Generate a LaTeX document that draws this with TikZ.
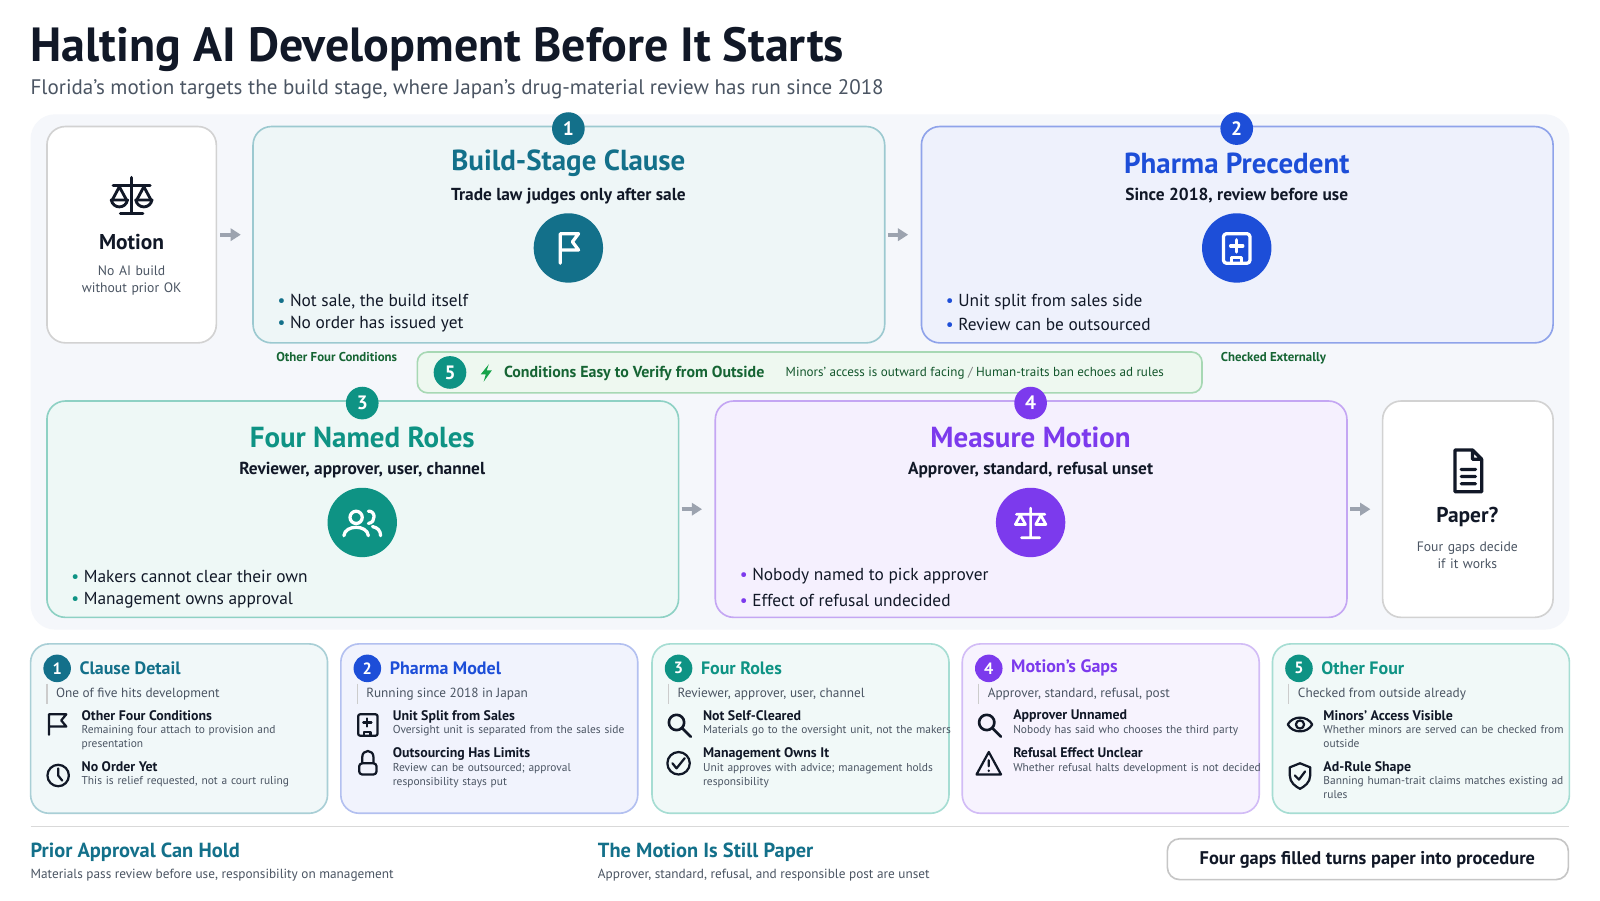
\documentclass[tikz,border=0pt]{standalone}
\usepackage{fontspec}
\setmainfont{PT Sans}
\usetikzlibrary{arrows.meta}
\hyphenpenalty=10000 \exhyphenpenalty=10000
\definecolor{ink}{HTML}{111827}
\definecolor{gry}{HTML}{4B5563}
\definecolor{cA}{HTML}{13708A}
\definecolor{cB}{HTML}{1D4ED8}
\definecolor{cC}{HTML}{0E9384}
\definecolor{cD}{HTML}{7C3AED}
\definecolor{cG}{HTML}{166534}
\definecolor{arr}{HTML}{9CA3AF}
\definecolor{bg}{HTML}{F5F7FB}
\definecolor{lg}{HTML}{16A34A}
\definecolor{b1f}{HTML}{EEF6F7}\definecolor{b1d}{HTML}{9CC9D0}
\definecolor{b2f}{HTML}{EEF1FC}\definecolor{b2d}{HTML}{8FA3EA}
\definecolor{b3f}{HTML}{EEF8F6}\definecolor{b3d}{HTML}{8ED1C4}
\definecolor{b4f}{HTML}{F5F0FE}\definecolor{b4d}{HTML}{C4A6F3}
\definecolor{b5f}{HTML}{EEF8F0}\definecolor{b5d}{HTML}{A7D8B4}
\definecolor{k1f}{HTML}{F1F8F9}\definecolor{k1d}{HTML}{A9CFD6}
\definecolor{k2f}{HTML}{F1F3FD}\definecolor{k2d}{HTML}{B3C0F0}
\definecolor{k3f}{HTML}{F1F9F8}\definecolor{k3d}{HTML}{A6DDD3}
\definecolor{k4f}{HTML}{F7F3FE}\definecolor{k4d}{HTML}{D2BCF6}
\begin{document}
\begin{tikzpicture}[x=0.5pt,y=-0.5pt,
 every node/.style={inner sep=0,outer sep=0},
 card/.style={rounded corners=9pt,line width=0.8pt},
 badge/.style={circle,minimum size=16pt,text=white,font=\bfseries\fontsize{9.5}{10}\selectfont},
 bigc/.style={circle,minimum size=34pt},
 flow/.style={-{Triangle[length=5pt,width=6pt]},draw=arr,line width=2pt},
 ttl/.style={font=\bfseries\fontsize{14.2}{16}\selectfont},
 sub/.style={font=\bfseries\fontsize{8.5}{10}\selectfont,text=ink},
 bul/.style={anchor=west,font=\fontsize{8.5}{10}\selectfont,text=ink},
 it/.style={anchor=north west,font=\bfseries\fontsize{6.8}{8}\selectfont,text=ink},
 ds/.style={anchor=north west,font=\fontsize{5.6}{7}\selectfont,text=gry,text width=118pt,align=left},
 ic/.style={line width=1.1pt,draw=ink,line cap=round,line join=round},
 wi/.style={line width=1.6pt,draw=white,line cap=round,line join=round}]
\useasboundingbox (0,0) rectangle (1600,900);
\fill[white] (0,0) rectangle (1600,900);
\begin{scope}[transform canvas={scale=1.0204}]
% title
\node[anchor=base west,font=\bfseries\fontsize{23.5}{26}\selectfont,text=ink] (title) at (30,60) {Halting AI Development Before It Starts};
\node[anchor=base west,font=\fontsize{10.3}{12}\selectfont,text=gry] (subt) at (30,93) {Florida's motion targets the build stage, where Japan's drug-material review has run since 2018};
\fill[bg,rounded corners=12pt] (30,112) rectangle (1538,617);
% Motion
\draw[card,draw=gray!35,fill=white] (46,124) rectangle (212,336);
\node (motion) at (129,230) {};
\draw[ic,line width=1.6pt] (129,174)--(129,208) (118,209)--(140,209) (111,182)--(147,182);
\draw[ic,line width=1.4pt] (117,183)--(110,196) (117,183)--(124,196) (141,183)--(134,196) (141,183)--(148,196);
\draw[ic,line width=1.4pt] (109,196) .. controls (111,205) and (123,205) .. (125,196) -- cycle;
\draw[ic,line width=1.4pt] (133,196) .. controls (135,205) and (147,205) .. (149,196) -- cycle;
\node[font=\bfseries\fontsize{10.5}{12}\selectfont,text=ink] (mt) at (129,237) {Motion};
\node[font=\fontsize{6.7}{8.5}\selectfont,text=gry,text width=78pt,align=center] (md) at (129,275) {No AI build without prior OK};
% Box 1
\draw[card,draw=b1d,fill=b1f] (248,124) rectangle (867,336);
\node (box1) at (557,230) {};
\node[ttl,text=cA] at (557,160) {Build-Stage Clause};
\node[sub] at (557,192) {Trade law judges only after sale};
\node[bigc,fill=cA] (i1) at (557,243) {};
\draw[wi] (549,258)--(549,229)--(567,229)--(561,237)--(567,245)--(549,245);
\node[bul] at (272,296) {\textcolor{cA}{•}~Not sale, the build itself};
\node[bul] at (272,318) {\textcolor{cA}{•}~No order has issued yet};
\node[badge,fill=cA] at (557,126) {1};
% Box 2
\draw[card,draw=b2d,fill=b2f] (903,124) rectangle (1522,336);
\node (box2) at (1212,230) {};
\node[ttl,text=cB] at (1212,160) {Pharma Precedent};
\node[sub] at (1212,192) {Since 2018, review before use};
\node[bigc,fill=cB] (i2) at (1212,243) {};
\draw[wi,rounded corners=1.5pt] (1199,229) rectangle (1225,258);
\draw[wi] (1212,235)--(1212,247) (1206,241)--(1218,241) (1207,258)--(1207,252)--(1217,252)--(1217,258);
\node[bul] at (927,296) {\textcolor{cB}{•}~Unit split from sales side};
\node[bul] at (927,318) {\textcolor{cB}{•}~Review can be outsourced};
\node[badge,fill=cB] at (1212,126) {2};
% banner 5
\node[anchor=base,font=\bfseries\fontsize{6.3}{7}\selectfont,text=cG] (l1) at (330,354) {Other Four Conditions};
\node[anchor=base,font=\bfseries\fontsize{6.3}{7}\selectfont,text=cG] (l2) at (1248,354) {Checked Externally};
\draw[card,rounded corners=5pt,draw=b5d,fill=b5f] (409,345) rectangle (1178,385);
\node[badge,fill=cC] (b5) at (441,365) {5};
\fill[lg] (479,357)--(471,367)--(476,367)--(474,374)--(482,363)--(477,363)--cycle;
\node[anchor=west,font=\bfseries\fontsize{7.8}{9}\selectfont,text=cG] (bt) at (494,366) {Conditions Easy to Verify from Outside};
\node[anchor=west,font=\fontsize{6.4}{8}\selectfont,text=cG!85!black] at (770,366) {Minors' access is outward facing \textcolor{gray}{/} Human-traits ban echoes ad rules};
% Box 3
\draw[card,draw=b3d,fill=b3f] (46,393) rectangle (665,605);
\node (box3) at (355,499) {};
\node[ttl,text=cC] at (355,429) {Four Named Roles};
\node[sub] at (355,461) {Reviewer, approver, user, channel};
\node[bigc,fill=cC] (i3) at (355,512) {};
\draw[wi] (349,507) circle (6);
\draw[wi] (337,525) .. controls (338,514) and (360,514) .. (361,525);
\draw[wi] (361,501) .. controls (368,500) and (369,512) .. (361,513);
\draw[wi] (365,516) .. controls (370,517) and (373,520) .. (373,525);
\node[bul] at (70,565) {\textcolor{cC}{•}~Makers cannot clear their own};
\node[bul] at (70,588) {\textcolor{cC}{•}~Management owns approval};
\node[badge,fill=cC] at (355,395) {3};
% Box 4
\draw[card,draw=b4d,fill=b4f] (701,393) rectangle (1320,605);
\node (box4) at (1010,499) {};
\node[ttl,text=cD] at (1010,429) {Measure Motion};
\node[sub] at (1010,461) {Approver, standard, refusal unset};
\node[bigc,fill=cD] (i4) at (1010,512) {};
\draw[wi,line width=1.3pt] (1010,498)--(1010,526) (1001,527)--(1019,527) (996,504)--(1024,504) (1000,505)--(995,514)--(1005,514)--cycle (1020,505)--(1015,514)--(1025,514)--cycle;
\node[bul] at (725,565) {\textcolor{cD}{•}~Nobody named to pick approver};
\node[bul] at (725,588) {\textcolor{cD}{•}~Effect of refusal undecided};
\node[badge,fill=cD] at (1010,395) {4};
% Paper
\draw[card,draw=gray!35,fill=white] (1355,393) rectangle (1522,605);
\node (paper) at (1438,499) {};
\draw[ic,line width=1.6pt] (1426,441)--(1443,441)--(1452,450)--(1452,482)--(1426,482)--cycle (1443,441)--(1443,450)--(1452,450) (1432,460)--(1446,460) (1432,467)--(1446,467) (1432,474)--(1446,474);
\node[font=\bfseries\fontsize{10.5}{12}\selectfont,text=ink] at (1438,507) {Paper?};
\node[font=\fontsize{6.7}{8.5}\selectfont,text=gry,text width=70pt,align=center] at (1438,544) {Four gaps decide if it works};
% arrows
\draw[flow] (216,230) -- (236,230);
\draw[flow] (870,230) -- (890,230);
\draw[flow] (668,499) -- (688,499);
\draw[flow] (1323,499) -- (1343,499);
% bottom cards
\foreach \x/\f/\d/\c/\n/\t/\s in {30/k1f/k1d/cA/1/Clause Detail/One of five hits development,
 334/k2f/k2d/cB/2/Pharma Model/Running since 2018 in Japan,
 639/k3f/k3d/cC/3/Four Roles/{Reviewer, approver, user, channel},
 943/k4f/k4d/cD/4/Motion's Gaps/{Approver, standard, refusal, post},
 1247/k3f/k3d/cC/5/Other Four/Checked from outside already}{
 \draw[card,draw=\d,fill=\f] (\x,631) rectangle ++(291,166);
 \node[badge,minimum size=13.5pt,font=\bfseries\fontsize{8}{9}\selectfont,fill=\c] at (\x+26,655) {\n};
 \node[anchor=west,font=\bfseries\fontsize{8.8}{10}\selectfont,text=\c] at (\x+48,655) {\t};
 \draw[gray!40,line width=0.6pt] (\x+16,670)--(\x+16,690);
 \node[anchor=west,font=\fontsize{6.5}{8}\selectfont,text=gry] at (\x+25,680) {\s};
}
% card 1 items
\node[it] at (80,696) {Other Four Conditions};
\node[ds] at (80,711) {Remaining four attach to provision and presentation};
\node[it] at (80,746) {No Order Yet};
\node[ds] at (80,761) {This is relief requested, not a court ruling};
\draw[ic] (48,720)--(48,700)--(65,700)--(60,706)--(65,712)--(48,712);
\draw[ic] (57,760) circle (10.5) (57,753)--(57,760)--(61,765);
% card 2
\node[it] at (385,696) {Unit Split from Sales};
\node[ds] at (385,711) {Oversight unit is separated from the sales side};
\node[it] at (385,733) {Outsourcing Has Limits};
\node[ds] at (385,748) {Review can be outsourced; approval responsibility stays put};
\draw[ic,rounded corners=1pt] (351,700) rectangle (370,721);
\draw[ic] (360,704)--(360,712) (356,708)--(364,708) (357,721)--(357,717)--(363,717)--(363,721);
\draw[ic,rounded corners=1.5pt] (352,748) rectangle (369,759);
\draw[ic] (355,748)--(355,742) .. controls (355,734) and (366,734) .. (366,742)--(366,748);
% card 3
\node[it] at (689,696) {Not Self-Cleared};
\node[ds,text width=122pt] at (689,711) {Materials go to the oversight unit, not the makers};
\node[it] at (689,733) {Management Owns It};
\node[ds] at (689,748) {Unit approves with advice; management holds responsibility};
\draw[ic,line width=1.3pt] (663,708) circle (7.5) (669,714)--(677,722);
\draw[ic] (665,748) circle (11) (659,748)--(663,753)--(671,743);
% card 4
\node[it] at (993,696) {Approver Unnamed};
\node[ds] at (993,711) {Nobody has said who chooses the third party};
\node[it] at (993,733) {Refusal Effect Unclear};
\node[ds,text width=122pt] at (993,748) {Whether refusal halts development is not decided};
\draw[ic,line width=1.3pt] (967,708) circle (7.5) (973,714)--(981,722);
\draw[ic] (969,737)--(981,759)--(957,759)--cycle (969,745)--(969,751) (969,755)--(969,755.5);
% card 5
\node[it] at (1297,696) {Minors' Access Visible};
\node[ds] at (1297,711) {Whether minors are served can be checked from outside};
\node[it] at (1297,746) {Ad-Rule Shape};
\node[ds] at (1297,761) {Banning human-trait claims matches existing ad rules};
\draw[ic] (1262,710) .. controls (1267,701) and (1281,701) .. (1286,710) .. controls (1281,719) and (1267,719) .. (1262,710) -- cycle;
\draw[ic] (1274,710) circle (4);
\draw[ic] (1274,748)--(1284,752)--(1284,760) .. controls (1284,767) and (1278,771) .. (1274,773) .. controls (1270,771) and (1264,767) .. (1264,760)--(1264,752)--cycle;
\draw[ic] (1269,760)--(1273,764)--(1279,756);
% footer
\draw[gray!30,line width=0.6pt] (30,810)--(1538,810);
\node[anchor=base west,font=\bfseries\fontsize{10}{12}\selectfont,text=cA] (f1) at (30,840) {Prior Approval Can Hold};
\node[anchor=base west,font=\fontsize{6.5}{8}\selectfont,text=gry] at (30,861) {Materials pass review before use, responsibility on management};
\node[anchor=base west,font=\bfseries\fontsize{10}{12}\selectfont,text=cA] (f2) at (586,840) {The Motion Is Still Paper};
\node[anchor=base west,font=\fontsize{6.5}{8}\selectfont,text=gry] at (586,861) {Approver, standard, refusal, and responsible post are unset};
\draw[card,rounded corners=6pt,draw=gray!45,fill=white] (1144,822) rectangle (1537,862);
\node[font=\bfseries\fontsize{9}{10}\selectfont,text=ink] (fb) at (1340,843) {Four gaps filled turns paper into procedure};
\end{scope}
\end{tikzpicture}
\end{document}
